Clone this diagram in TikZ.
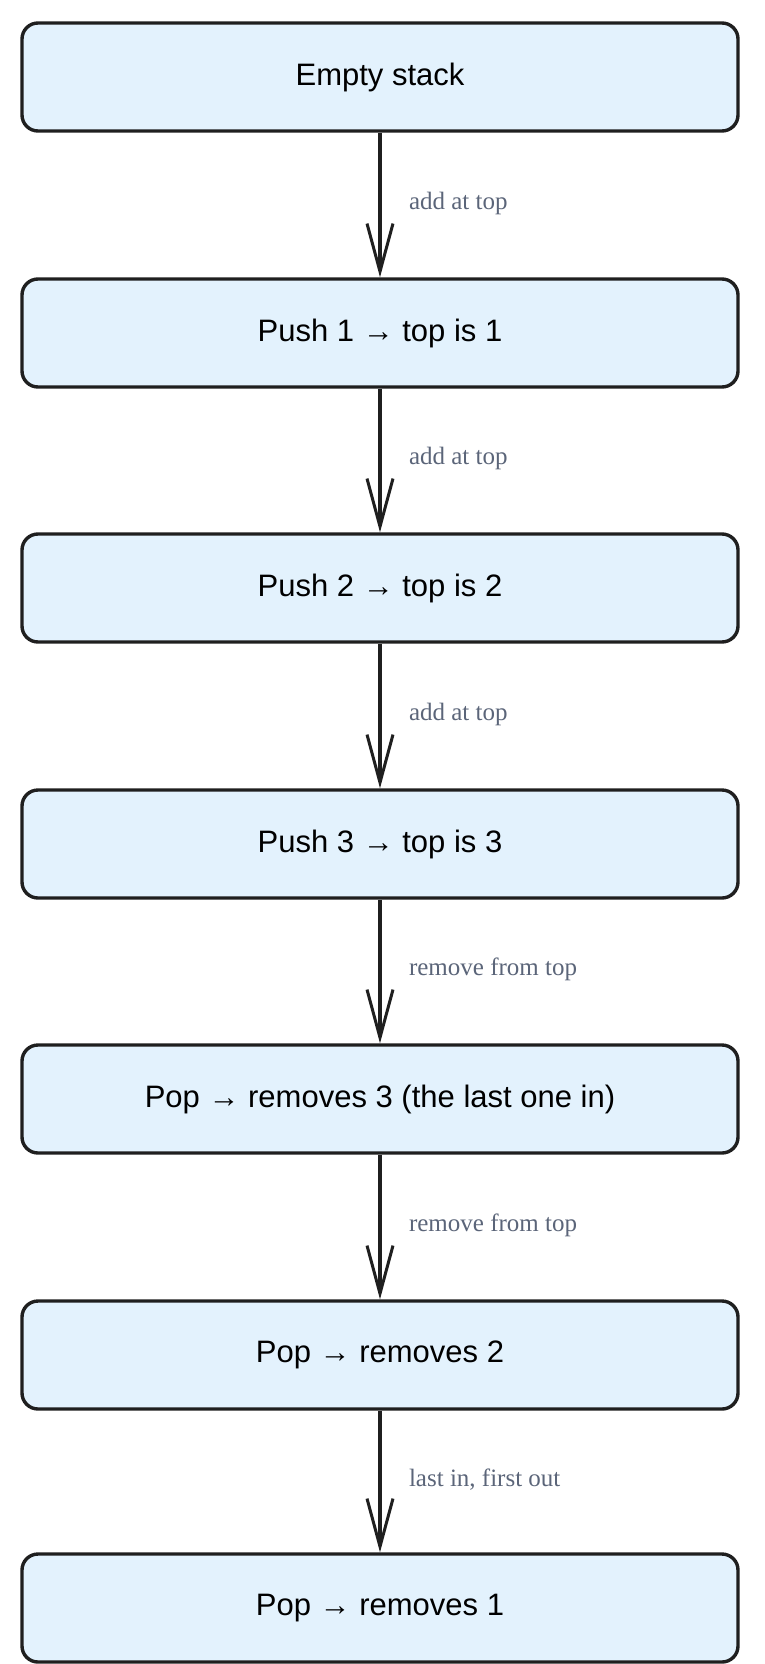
\documentclass[tikz,border=0pt]{standalone}
\usepackage{fontspec}
\setmainfont{Liberation Sans}
\newfontfamily\lblfont{Liberation Serif}
\usetikzlibrary{arrows.meta}
\definecolor{boxfill}{HTML}{E3F2FD}
\definecolor{lblgray}{HTML}{5B6579}
\tikzset{
  stackbox/.style={draw=black!88, line width=3.4pt, rounded corners=16pt, fill=boxfill,
    minimum width=716pt, minimum height=108pt, font=\fontsize{31}{36}\selectfont},
  flow/.style={draw=black!88, line width=3.4pt, -{Straight Barb[length=48pt,width=26pt,line width=3pt]}},
  lbl/.style={right, text=lblgray, font=\lblfont\fontsize{25}{29}\selectfont}
}
\begin{document}
\begin{tikzpicture}[x=1pt,y=1pt]
\useasboundingbox (0,0) rectangle (764,-1664);
\node[stackbox] (s0) at (380,-77) {Empty stack};
\node[stackbox] (s1) at (380,-333) {Push 1 → top is 1};
\node[stackbox] (s2) at (380,-588) {Push 2 → top is 2};
\node[stackbox] (s3) at (380,-844) {Push 3 → top is 3};
\node[stackbox] (s4) at (380,-1099) {Pop → removes 3 (the last one in)};
\node[stackbox] (s5) at (380,-1355) {Pop → removes 2};
\node[stackbox] (s6) at (380,-1608) {Pop → removes 1};

\path[flow] (s0) -- node[lbl, xshift=24pt, yshift=2pt] {add at top} (s1);
\path[flow] (s1) -- node[lbl, xshift=24pt, yshift=2pt] {add at top} (s2);
\path[flow] (s2) -- node[lbl, xshift=24pt, yshift=2pt] {add at top} (s3);
\path[flow] (s3) -- node[lbl, xshift=24pt, yshift=2pt] {remove from top} (s4);
\path[flow] (s4) -- node[lbl, xshift=24pt, yshift=2pt] {remove from top} (s5);
\path[flow] (s5) -- node[lbl, xshift=24pt, yshift=2pt] {last in, first out} (s6);
\end{tikzpicture}
\end{document}
